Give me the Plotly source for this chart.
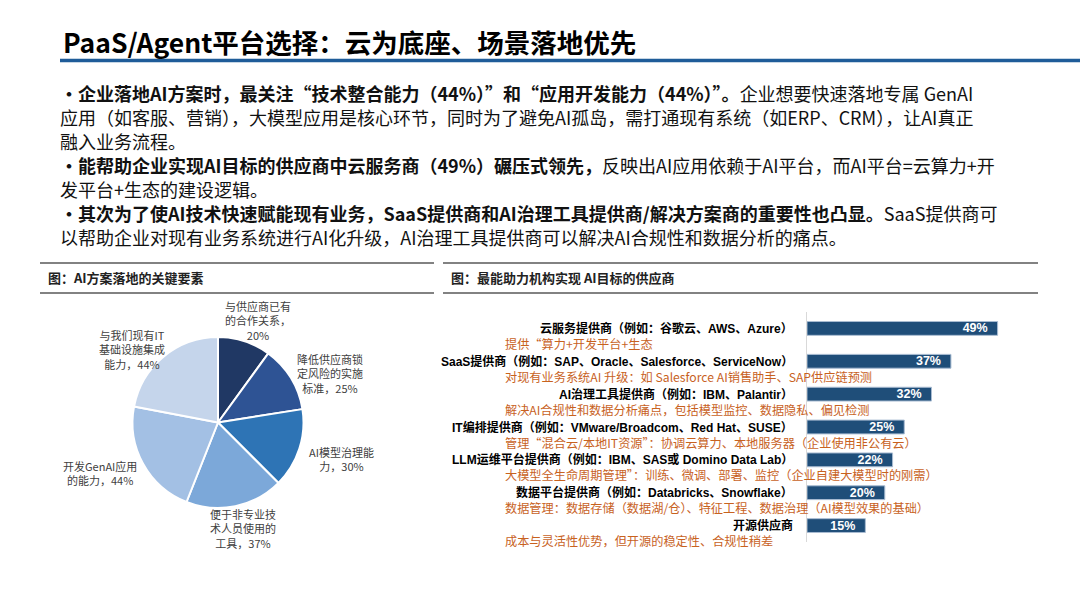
import plotly.graph_objects as go

W, H = 1080, 608

# slide text
title_text = "PaaS/Agent平台选择：云为底座、场景落地优先"
body_lines = [
    "<b>•企业落地AI方案时，最关注“技术整合能力（44%）”和“应用开发能力（44%）”。</b>企业想要快速落地专属 GenAI",
    "应用（如客服、营销），大模型应用是核心环节，同时为了避免AI孤岛，需打通现有系统（如ERP、CRM），让AI真正",
    "融入业务流程。",
    "<b>•能帮助企业实现AI目标的供应商中云服务商（49%）碾压式领先，</b>反映出AI应用依赖于AI平台，而AI平台=云算力+开",
    "发平台+生态的建设逻辑。",
    "<b>•其次为了使AI技术快速赋能现有业务，SaaS提供商和AI治理工具提供商/解决方案商的重要性也凸显。</b>SaaS提供商可",
    "以帮助企业对现有业务系统进行AI化升级，AI治理工具提供商可以解决AI合规性和数据分析的痛点。",
]
left_header = "图：AI方案落地的关键要素"
right_header = "图：最能助力机构实现 AI目标的供应商"

# pie data
pie_names = [
    "与供应商已有的合作关系",
    "降低供应商锁定风险的实施标准",
    "AI模型治理能力",
    "便于非专业技术人员使用的工具",
    "开发GenAI应用的能力",
    "与我们现有IT基础设施集成能力",
]
pie_wrapped = [
    "与供应商已有<br>的合作关系，<br>",
    "降低供应商锁<br>定风险的实施<br>标准，",
    "AI模型治理能<br>力，",
    "便于非专业技<br>术人员使用的<br>工具，",
    "开发GenAI应用<br>的能力，",
    "与我们现有IT<br>基础设施集成<br>能力，",
]
pie_values = [20, 25, 30, 37, 44, 44]
pie_colors = ["#203864", "#2e5394", "#2e74b5", "#7ca8d9", "#a3c0e4", "#c5d5eb"]

# bar data
vendors = [
    "云服务提供商（例如：谷歌云、AWS、Azure）",
    "SaaS提供商（例如：SAP、Oracle、Salesforce、ServiceNow）",
    "AI治理工具提供商（例如：IBM、Palantir）",
    "IT编排提供商（例如：VMware/Broadcom、Red Hat、SUSE）",
    "LLM运维平台提供商（例如：IBM、SAS或 Domino Data Lab）",
    "数据平台提供商（例如：Databricks、Snowflake）",
    "开源供应商",
]
vendor_notes = [
    "提供“算力+开发平台+生态",
    "对现有业务系统AI 升级：如 Salesforce AI销售助手、SAP供应链预测",
    "解决AI合规性和数据分析痛点，包括模型监控、数据隐私、偏见检测",
    "管理“混合云/本地IT资源”：协调云算力、本地服务器（企业使用非公有云）",
    "大模型全生命周期管理”：训练、微调、部署、监控（企业自建大模型时的刚需）",
    "数据管理：数据存储（数据湖/仓）、特征工程、数据治理（AI模型效果的基础）",
    "成本与灵活性优势，但开源的稳定性、合规性稍差",
]
vendor_pct = [49, 37, 32, 25, 22, 20, 15]

CJK = "Noto Sans CJK SC"
LATIN_CJK = "Liberation Sans, Noto Sans CJK SC"


# pixel -> paper helpers
def px(x):
    return x / W


def py(y):
    return 1 - y / H


def hline(x0, x1, y, color, width):
    return dict(type="line", xref="paper", yref="paper",
                x0=px(x0), x1=px(x1), y0=py(y), y1=py(y),
                line=dict(color=color, width=width))


fig = go.Figure()

# Pie
fig.add_trace(
    go.Pie(
        labels=pie_names,
        values=pie_values,
        sort=False,
        direction="clockwise",
        rotation=0,
        marker=dict(colors=pie_colors, line=dict(color="white", width=2)),
        textinfo="none",
        hoverinfo="label+value",
        showlegend=False,
        domain=dict(x=[px(132), px(304)], y=[py(508), py(337)]),
    )
)

# Bars
fig.add_trace(
    go.Bar(
        x=vendor_pct,
        y=vendors,
        orientation="h",
        width=0.42,
        marker=dict(color="#1f4e79", line=dict(color="#a9bcd2", width=1)),
        text=[f"{v}%" for v in vendor_pct],
        textposition="inside",
        insidetextanchor="end",
        constraintext="none",
        textfont=dict(family=LATIN_CJK, size=12.5, color="white"),
        texttemplate="<b>%{text}</b>  ",
        showlegend=False,
        cliponaxis=False,
    )
)

annotations = []

# title
annotations.append(dict(
    text="<b>" + title_text + "</b>", x=px(61), y=py(42), xref="paper", yref="paper",
    xanchor="left", yanchor="middle", showarrow=False,
    font=dict(family=CJK, size=26.5, color="#000000"),
))

# body bullet text
for i, line in enumerate(body_lines):
    annotations.append(dict(
        text=line, x=px(59), y=py(93 + i * 24), xref="paper", yref="paper",
        xanchor="left", yanchor="middle", showarrow=False, borderpad=0,
        font=dict(family=CJK, size=18, color="#111111"),
    ))

# panel headers
for txt, x in [(left_header, 46), (right_header, 449)]:
    annotations.append(dict(
        text="<b>" + txt + "</b>", x=px(x), y=py(277), xref="paper", yref="paper",
        xanchor="left", yanchor="middle", showarrow=False,
        font=dict(family=CJK, size=13, color="#222222"),
    ))

# pie labels
pie_label_pos = [(258, 320), (330, 373), (341, 459), (243, 528), (100, 473), (132, 349)]
for wrapped, v, (lx, ly) in zip(pie_wrapped, pie_values, pie_label_pos):
    annotations.append(dict(
        text=f"{wrapped}{v}%", x=px(lx), y=py(ly), xref="paper", yref="paper",
        xanchor="center", yanchor="middle", showarrow=False, align="center",
        font=dict(family=CJK, size=11, color="#404040"),
    ))

# bar category labels and notes
for name, note in zip(vendors, vendor_notes):
    annotations.append(dict(
        text="<b>" + name + "</b>", x=px(794), y=name, xref="paper", yref="y",
        xanchor="right", yanchor="middle", showarrow=False, borderpad=0,
        font=dict(family=LATIN_CJK, size=12, color="#000000"),
    ))
    annotations.append(dict(
        text=note, x=px(504), y=name, yshift=-15.5, xref="paper", yref="y",
        xanchor="left", yanchor="middle", showarrow=False, borderpad=0,
        font=dict(family=CJK, size=12.2, color="#c8621e"),
    ))

shapes = [
    hline(60, 1080, 60.5, "#1f5c99", 3.5),
    hline(40, 434, 263, "#595959", 1.6),
    hline(40, 434, 293, "#595959", 1.6),
    hline(443, 1038, 263, "#595959", 1.6),
    hline(443, 1038, 293, "#595959", 1.6),
]

fig.update_layout(
    width=W,
    height=H,
    margin=dict(l=0, r=0, t=0, b=0),
    paper_bgcolor="white",
    plot_bgcolor="white",
    annotations=annotations,
    shapes=shapes,
    xaxis=dict(
        domain=[px(807), px(807 + 60 * 3.89)],
        range=[0, 60],
        visible=False,
        fixedrange=True,
    ),
    yaxis=dict(
        domain=[py(542), py(312)],
        categoryorder="array",
        categoryarray=vendors,
        range=[len(vendors) - 0.5, -0.5],
        showticklabels=False,
        ticks="",
        showgrid=False,
        zeroline=False,
        showline=True,
        linecolor="#d9d9d9",
        linewidth=1,
    ),
)

# page margin off so the figure sits at the window corner
fig.write_html(
    "out.html",
    config={"displayModeBar": False},
    post_script="document.body.style.margin='0';",
)
